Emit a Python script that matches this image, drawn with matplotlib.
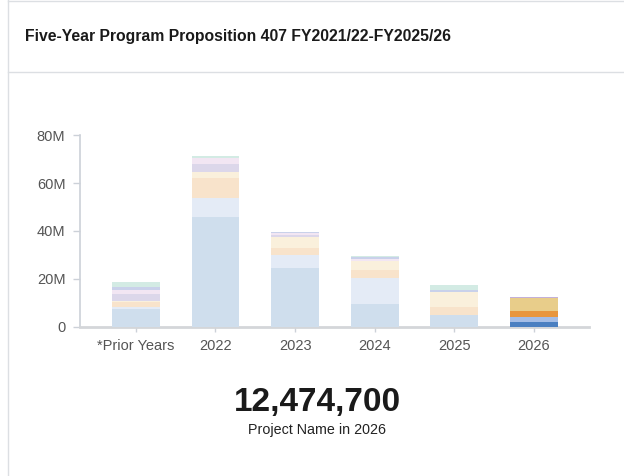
import matplotlib
matplotlib.use("Agg")
import matplotlib.pyplot as plt
from matplotlib.lines import Line2D
import numpy as np

plt.rcParams['font.family'] = ['Liberation Sans', 'DejaVu Sans']

# Funding by fiscal year, in millions, one list per project group (bottom to top)
years = ['*Prior Years', '2022', '2023', '2024', '2025', '2026']
group_a = [7.4, 46.0, 24.7, 9.5, 4.8, 1.85]
group_b = [0.7, 7.9, 5.2, 11.0, 0.0, 2.05]
group_c = [2.4, 8.1, 3.1, 3.2, 3.3, 2.8]
group_d = [0.3, 2.8, 4.5, 3.9, 6.5, 5.4]
group_e = [2.8, 3.3, 0.9, 0.0, 0.0, 0.3747]
group_f = [1.8, 2.5, 0.6, 0.6, 0.0, 0.0]
group_g = [1.4, 0.0, 0.6, 0.8, 0.7, 0.0]
group_h = [1.7, 0.7, 0.0, 0.6, 2.1, 0.0]

# full colours for the selected year, washed-out ones for the rest
full_colors = ['#4a7fc1', '#a4bde6', '#e8963e', '#e8cd8a',
               '#c4b0d8', '#e8c8e8', '#9fb0d8', '#9fd8c8']
faded_colors = ['#cfdeed', '#e4ebf6', '#f8e3cb', '#faf0dc',
                '#dcd7ea', '#f2e6f3', '#c9d1ea', '#d3ebe4']
selected = 5

total_selected = 12474700
caption = 'Project Name in 2026'

groups = [group_a, group_b, group_c, group_d, group_e, group_f, group_g, group_h]

W, H = 624, 476
fig = plt.figure(figsize=(W / 100, H / 100), dpi=100)

# card outline
grey = '#dcdfe3'
fig.add_artist(Line2D([8 / W, 1], [1 - 0.5 / H, 1 - 0.5 / H], color=grey, lw=1))
fig.add_artist(Line2D([8 / W, 8 / W], [0, 1], color=grey, lw=1))
fig.add_artist(Line2D([8 / W, 1], [1 - 72 / H, 1 - 72 / H], color=grey, lw=1))

fig.text(25 / W, 1 - 40.5 / H, 'Five-Year Program Proposition 407 FY2021/22-FY2025/26',
         fontsize=11.3, fontweight='bold', color='#1a1a1a', va='baseline')

ax = fig.add_axes([80 / W, 1 - 326.7 / H, 509 / W, 191.4 / H])
x = np.arange(len(years))
bottom = np.zeros(len(years))
for g, vals in enumerate(groups):
    vals = np.array(vals) * 1e6
    cols = [full_colors[g] if i == selected else faded_colors[g] for i in range(len(years))]
    ax.bar(x, vals, width=0.6, bottom=bottom, color=cols, linewidth=0, zorder=3)
    bottom += vals

ax.set_xlim(-0.70, 5.69)
ax.set_ylim(0, 80e6)
ax.set_yticks([0, 20e6, 40e6, 60e6, 80e6])
ax.set_yticklabels(['0', '20M', '40M', '60M', '80M'])
ax.set_xticks(x)
ax.set_xticklabels(years)

for s in ['top', 'right']:
    ax.spines[s].set_visible(False)
ax.spines['left'].set_color('#ccd1d8')
ax.spines['left'].set_linewidth(1.2)
ax.spines['bottom'].set_color('#d4d6d9')
ax.spines['bottom'].set_linewidth(2)
ax.tick_params(axis='y', length=5, width=1, color='#ccd1d8', pad=5.5,
               labelsize=10.5, labelcolor='#555555')
ax.tick_params(axis='x', length=3.5, width=1, color='#ccd1d8', pad=5,
               labelsize=10.5, labelcolor='#555555')

fig.text(317 / W, 1 - 410.5 / H, f'{total_selected:,}', fontsize=24,
         fontweight='bold', color='#1a1a1a', ha='center', va='baseline')
fig.text(317 / W, 1 - 434 / H, caption, fontsize=10.3, color='#222222',
         ha='center', va='baseline')

fig.savefig('out.png', dpi=100)
